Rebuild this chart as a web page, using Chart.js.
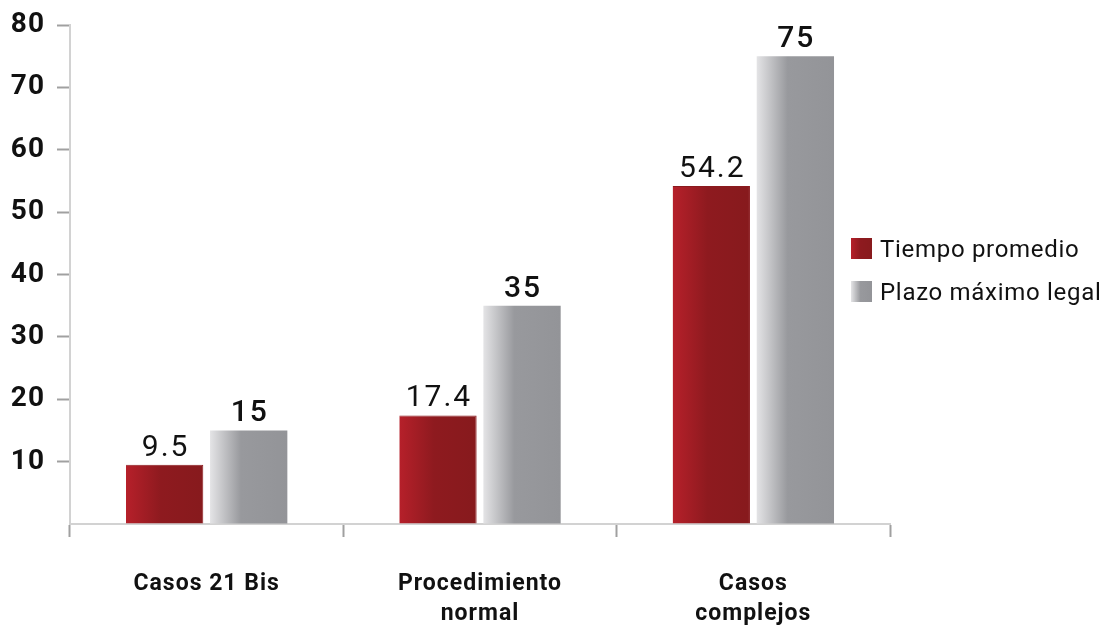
<!DOCTYPE html>
<html>
<head>
<meta charset="utf-8">
<script src="https://cdn.jsdelivr.net/npm/chart.js@4.4.1/dist/chart.umd.min.js"></script>
<style>
  html, body { margin: 0; padding: 0; background: #ffffff; }
  #wrap { position: relative; width: 1108px; height: 629px; }
  #chart { position: absolute; left: 0; top: 0; }
  .legend { position: absolute; left: 851px; top: 227px; font-family: Roboto, "Noto Sans", sans-serif; font-size: 24px; letter-spacing: 0.7px; color: #111; }
  .legend .item { display: flex; align-items: center; height: 43px; }
  .legend .sw { width: 21px; height: 21px; margin-right: 8px; }
  .legend .red { background: linear-gradient(to right, #b6202a 0%, #8e1a1f 45%, #881a1d 100%); }
  .legend .gray { background: linear-gradient(to right, #e4e4e6 0%, #98999d 45%, #939498 100%); }
</style>
</head>
<body>
<div id="wrap">
  <canvas id="chart" width="1108" height="629"></canvas>
  <div class="legend" id="legend"></div>
</div>
<script>
// Categories and series
const categories = ["Casos 21 Bis", ["Procedimiento", "normal"], ["Casos", "complejos"]];
const seriesNames = ["Tiempo promedio", "Plazo máximo legal"];
const tiempoPromedio = [9.5, 17.4, 54.2];
const plazoMaximo = [15, 35, 75];
const yTicks = [0, 10, 20, 30, 40, 50, 60, 70, 80];

const CAT_PCT = 0.615;
const BAR_PCT = 0.92;

// Horizontal gradient across each bar, computed from the category scale
function barGradient(stops) {
  const fallback = stops[stops.length - 1][1];
  return function (ctx) {
    const chart = ctx.chart;
    const x = chart.scales && chart.scales.x;
    if (!x || ctx.dataIndex === undefined) return fallback;
    const cat = x.getPixelForValue(ctx.dataIndex);
    const catW = x.width / categories.length;
    const slot = catW * CAT_PCT / 2;
    const w = slot * BAR_PCT;
    const center = cat + (ctx.datasetIndex - 0.5) * slot;
    const x0 = center - w / 2, x1 = center + w / 2;
    if (!isFinite(x0) || !isFinite(x1) || x1 <= x0) return fallback;
    const g = chart.ctx.createLinearGradient(x0, 0, x1, 0);
    stops.forEach(s => g.addColorStop(s[0], s[1]));
    return g;
  };
}

const redStops = [[0, "#b6202a"], [0.45, "#8e1a1f"], [1, "#871a1d"]];
const grayStops = [[0, "#e4e4e6"], [0.4, "#98999d"], [1, "#939498"]];

// Slightly tracked text for the axis labels
const tracking = {
  id: "tracking",
  beforeUpdate(chart) { chart.ctx.letterSpacing = "1px"; },
  beforeDraw(chart) { chart.ctx.letterSpacing = "1px"; }
};

// Value labels above each bar
const valueLabels = {
  id: "valueLabels",
  afterDatasetsDraw(chart) {
    const c = chart.ctx;
    c.save();
    c.letterSpacing = "2px";
    c.textAlign = "center";
    c.textBaseline = "alphabetic";
    c.fillStyle = "#111111";
    chart.data.datasets.forEach((ds, di) => {
      const meta = chart.getDatasetMeta(di);
      c.font = (di === 0 ? "400" : "500") + " 30px Roboto, 'Noto Sans', sans-serif";
      meta.data.forEach((bar, i) => {
        c.fillText(String(ds.data[i]), bar.x + 1, bar.y - 9);
      });
    });
    c.restore();
  }
};

const chart = new Chart(document.getElementById("chart"), {
  type: "bar",
  data: {
    labels: categories,
    datasets: [
      {
        label: seriesNames[0],
        data: tiempoPromedio,
        backgroundColor: barGradient(redStops),
        borderColor: "#8a1a1e",
        borderWidth: { top: 1, right: 1, left: 0, bottom: 0 },
        categoryPercentage: CAT_PCT,
        barPercentage: BAR_PCT
      },
      {
        label: seriesNames[1],
        data: plazoMaximo,
        backgroundColor: barGradient(grayStops),
        borderWidth: 0,
        categoryPercentage: CAT_PCT,
        barPercentage: BAR_PCT
      }
    ]
  },
  options: {
    responsive: false,
    animation: false,
    layout: { padding: { top: 25, right: 218, left: 0, bottom: 0 } },
    plugins: {
      legend: { display: false },
      tooltip: { enabled: false }
    },
    scales: {
      x: {
        grid: {
          offset: true,
          drawOnChartArea: false,
          drawTicks: true,
          tickLength: 13,
          tickWidth: 2,
          tickColor: "#a0a0a0"
        },
        border: { color: "#d2d2d2", width: 2 },
        ticks: {
          color: "#111111",
          padding: 32,
          font: { family: "Roboto, 'Noto Sans', sans-serif", size: 23, weight: "bold", lineHeight: 1.3 }
        },
        afterFit(scale) { scale.height = 105; scale.paddingLeft = 0; scale.paddingRight = 0; }
      },
      y: {
        min: 0,
        max: 80,
        afterBuildTicks(scale) { scale.ticks = yTicks.map(v => ({ value: v })); },
        grid: {
          drawOnChartArea: false,
          drawTicks: true,
          tickLength: 13,
          tickWidth: 2,
          tickColor: ctx => (ctx.tick && ctx.tick.value === 0 ? "rgba(0,0,0,0)" : "#a0a0a0")
        },
        border: { color: "#d2d2d2", width: 2 },
        ticks: {
          color: "#111111",
          padding: 12,
          callback: v => (v === 0 ? "" : String(v)),
          font: { family: "Roboto, 'Noto Sans', sans-serif", size: 28, weight: "bold" }
        },
        afterFit(scale) { scale.width = 70; scale.paddingTop = 0; scale.paddingBottom = 0; }
      }
    }
  },
  plugins: [tracking, valueLabels]
});

// Legend
const legend = document.getElementById("legend");
["red", "gray"].forEach((cls, i) => {
  const item = document.createElement("div");
  item.className = "item";
  const sw = document.createElement("span");
  sw.className = "sw " + cls;
  const tx = document.createElement("span");
  tx.textContent = seriesNames[i];
  item.appendChild(sw);
  item.appendChild(tx);
  legend.appendChild(item);
});
</script>
</body>
</html>
